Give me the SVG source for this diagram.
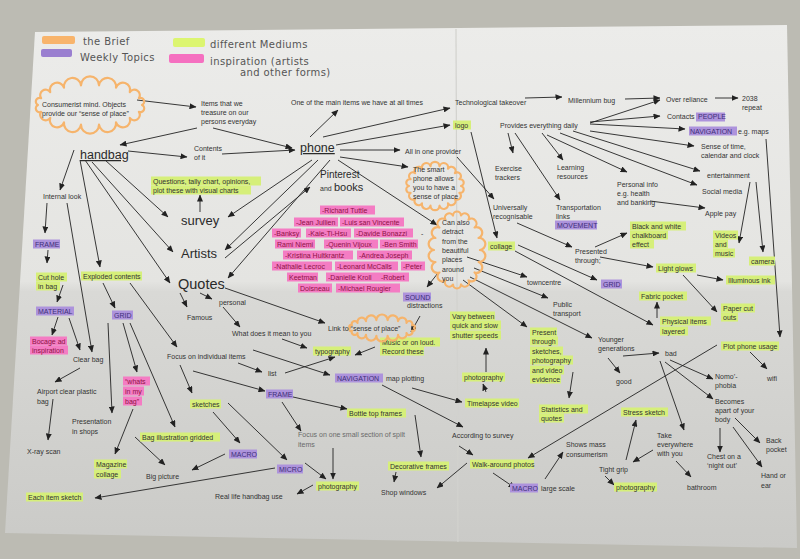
<svg xmlns="http://www.w3.org/2000/svg" width="800" height="559" viewBox="0 0 800 559">
<defs>
<style>
.t{font-family:"Liberation Sans",Arial,sans-serif;font-size:7px;fill:#333}
.g{fill:#6a6a6a}
.big{font-family:"Liberation Sans",Arial,sans-serif;fill:#2a2a2a}
.hw{font-family:"DejaVu Sans",sans-serif;font-size:10px;fill:#555;letter-spacing:0.4px}
.l{fill:#d6ef7a}
.p{fill:#ad93dc}
.k{fill:#f47cc3}
.pt{fill:#3d2f78}
.kt{fill:#8e1245}
.cloud{fill:none;stroke:#f6b46c;stroke-width:2.2;stroke-linejoin:round}
#connectors line{stroke:#222;stroke-width:0.9;marker-end:url(#ah)}
</style>
<marker id="ah" markerUnits="userSpaceOnUse" markerWidth="7" markerHeight="6" refX="6.5" refY="3" orient="auto">
<path d="M0,0 L7,3 L0,6 z" fill="#222"/>
</marker>
<linearGradient id="paper" x1="0" y1="0" x2="0" y2="1">
<stop offset="0" stop-color="#ececea"/>
<stop offset="0.49" stop-color="#e4e4e1"/>
<stop offset="0.51" stop-color="#d9d9d6"/>
<stop offset="1" stop-color="#cacac7"/>
</linearGradient>
</defs>

<g id="background">
<rect x="0" y="0" width="800" height="559" fill="#bcbbb3"/>
<polygon points="35,32 787,25 797,548 5,533" fill="url(#paper)"/>
<line x1="456" y1="29" x2="458" y2="542" stroke="#d2d2ce" stroke-width="1.2"/>
</g>

<g id="legend">
<rect x="42" y="36" width="33" height="8" rx="2" fill="#f8b46c"/>
<text class="hw" x="83" y="45">the Brief</text>
<rect x="41" y="49" width="31" height="8" rx="2" fill="#9a7fd0"/>
<text class="hw" x="80" y="61">Weekly Topics</text>
<rect x="173" y="38" width="32" height="9" rx="2" fill="#dcf570"/>
<text class="hw" x="210" y="48">different Mediums</text>
<rect x="169" y="54" width="35" height="9" rx="2" fill="#f570c0"/>
<text class="hw" x="210" y="65">inspiration (artists</text>
<text class="hw" x="240" y="76">and other forms)</text>
</g>

<g id="connectors">
<line x1="137" y1="100" x2="196" y2="107"/>
<line x1="197" y1="128" x2="120" y2="145"/>
<line x1="213" y1="128" x2="292" y2="148"/>
<line x1="128" y1="151" x2="187" y2="157"/>
<line x1="222" y1="154" x2="295" y2="150"/>
<line x1="310" y1="137" x2="338" y2="110"/>
<line x1="323" y1="137" x2="450" y2="108"/>
<line x1="336" y1="145" x2="450" y2="125"/>
<line x1="340" y1="150" x2="400" y2="150"/>
<line x1="340" y1="157" x2="408" y2="167"/>
<line x1="525" y1="98" x2="562" y2="97"/>
<line x1="625" y1="99" x2="660" y2="98"/>
<line x1="715" y1="98" x2="738" y2="98"/>
<line x1="590" y1="123" x2="660" y2="100"/>
<line x1="590" y1="122" x2="660" y2="116"/>
<line x1="590" y1="124" x2="685" y2="129"/>
<line x1="590" y1="131" x2="694" y2="146"/>
<line x1="573" y1="131" x2="700" y2="171"/>
<line x1="560" y1="133" x2="697" y2="185"/>
<line x1="547" y1="135" x2="627" y2="172"/>
<line x1="542" y1="133" x2="563" y2="160"/>
<line x1="508" y1="133" x2="513" y2="153"/>
<line x1="515" y1="133" x2="560" y2="200"/>
<line x1="650" y1="201" x2="705" y2="208"/>
<line x1="750" y1="182" x2="739" y2="243"/>
<line x1="756" y1="182" x2="763" y2="252"/>
<line x1="766" y1="139" x2="780" y2="337"/>
<line x1="471" y1="132" x2="497" y2="238"/>
<line x1="457" y1="157" x2="494" y2="199"/>
<line x1="517" y1="223" x2="572" y2="247"/>
<line x1="595" y1="247" x2="627" y2="233"/>
<line x1="600" y1="257" x2="653" y2="267"/>
<line x1="697" y1="275" x2="723" y2="280"/>
<line x1="683" y1="275" x2="717" y2="312"/>
<line x1="657" y1="318" x2="657" y2="302"/>
<line x1="518" y1="245" x2="597" y2="280"/>
<line x1="515" y1="251" x2="653" y2="325"/>
<line x1="623" y1="356" x2="659" y2="353"/>
<line x1="608" y1="358" x2="620" y2="373"/>
<line x1="670" y1="360" x2="713" y2="379"/>
<line x1="665" y1="362" x2="713" y2="399"/>
<line x1="660" y1="361" x2="684" y2="430"/>
<line x1="750" y1="352" x2="767" y2="369"/>
<line x1="717" y1="345" x2="528" y2="458"/>
<line x1="720" y1="428" x2="720" y2="452"/>
<line x1="735" y1="418" x2="760" y2="443"/>
<line x1="733" y1="427" x2="762" y2="467"/>
<line x1="653" y1="450" x2="633" y2="462"/>
<line x1="676" y1="461" x2="691" y2="477"/>
<line x1="626" y1="460" x2="636" y2="420"/>
<line x1="605" y1="476" x2="614" y2="485"/>
<line x1="545" y1="479" x2="563" y2="452"/>
<line x1="493" y1="473" x2="515" y2="488"/>
<line x1="467" y1="463" x2="437" y2="488"/>
<line x1="459" y1="446" x2="473" y2="455"/>
<line x1="382" y1="385" x2="463" y2="427"/>
<line x1="412" y1="388" x2="462" y2="402"/>
<line x1="486" y1="392" x2="483" y2="384"/>
<line x1="486" y1="372" x2="486" y2="348"/>
<line x1="463" y1="280" x2="527" y2="327"/>
<line x1="467" y1="257" x2="527" y2="277"/>
<line x1="474" y1="268" x2="548" y2="298"/>
<line x1="470" y1="277" x2="592" y2="338"/>
<line x1="573" y1="372" x2="569" y2="398"/>
<line x1="438" y1="273" x2="427" y2="287"/>
<line x1="420" y1="316" x2="411" y2="332"/>
<line x1="375" y1="347" x2="355" y2="355"/>
<line x1="282" y1="339" x2="307" y2="348"/>
<line x1="285" y1="373" x2="335" y2="357"/>
<line x1="253" y1="350" x2="330" y2="375"/>
<line x1="238" y1="363" x2="262" y2="372"/>
<line x1="193" y1="371" x2="265" y2="391"/>
<line x1="180" y1="365" x2="192" y2="393"/>
<line x1="293" y1="397" x2="347" y2="409"/>
<line x1="282" y1="402" x2="301" y2="431"/>
<line x1="333" y1="448" x2="333" y2="479"/>
<line x1="305" y1="463" x2="326" y2="479"/>
<line x1="313" y1="485" x2="297" y2="494"/>
<line x1="415" y1="415" x2="421" y2="457"/>
<line x1="396" y1="472" x2="394" y2="482"/>
<line x1="213" y1="412" x2="240" y2="443"/>
<line x1="228" y1="403" x2="287" y2="460"/>
<line x1="275" y1="468" x2="95" y2="498"/>
<line x1="225" y1="454" x2="192" y2="470"/>
<line x1="135" y1="437" x2="165" y2="465"/>
<line x1="133" y1="409" x2="115" y2="454"/>
<line x1="74" y1="150" x2="60" y2="190"/>
<line x1="80" y1="160" x2="100" y2="267"/>
<line x1="85" y1="160" x2="170" y2="283"/>
<line x1="92" y1="162" x2="173" y2="252"/>
<line x1="105" y1="160" x2="168" y2="217"/>
<line x1="67" y1="203" x2="92" y2="352"/>
<line x1="47" y1="203" x2="45" y2="233"/>
<line x1="48" y1="250" x2="47" y2="263"/>
<line x1="63" y1="285" x2="57" y2="302"/>
<line x1="58" y1="317" x2="52" y2="335"/>
<line x1="69" y1="318" x2="80" y2="350"/>
<line x1="103" y1="283" x2="115" y2="308"/>
<line x1="130" y1="283" x2="177" y2="347"/>
<line x1="108" y1="323" x2="112" y2="413"/>
<line x1="123" y1="323" x2="137" y2="372"/>
<line x1="130" y1="323" x2="175" y2="427"/>
<line x1="80" y1="368" x2="55" y2="382"/>
<line x1="53" y1="399" x2="48" y2="440"/>
<line x1="200" y1="212" x2="200" y2="195"/>
<line x1="312" y1="160" x2="228" y2="217"/>
<line x1="318" y1="160" x2="225" y2="250"/>
<line x1="330" y1="160" x2="228" y2="278"/>
<line x1="225" y1="258" x2="310" y2="187"/>
<line x1="338" y1="160" x2="437" y2="225"/>
<line x1="200" y1="293" x2="212" y2="299"/>
<line x1="180" y1="293" x2="187" y2="307"/>
<line x1="223" y1="307" x2="240" y2="327"/>
<line x1="225" y1="288" x2="325" y2="323"/>
</g>

<g id="n-consumerist">
<path class="cloud" d="M142,105 A1,1 0 0 1 138.9,111.8 A1,1 0 0 1 129.8,117.9 A1,1 0 0 1 116,122.3 A1,1 0 0 1 99,124.7 A1,1 0 0 1 81,124.7 A1,1 0 0 1 64,122.3 A1,1 0 0 1 50.2,117.9 A1,1 0 0 1 41.1,111.8 A1,1 0 0 1 38,105 A1,1 0 0 1 41.1,98.2 A1,1 0 0 1 50.2,92.1 A1,1 0 0 1 64,87.7 A1,1 0 0 1 81,85.3 A1,1 0 0 1 99,85.3 A1,1 0 0 1 116,87.7 A1,1 0 0 1 129.8,92.1 A1,1 0 0 1 138.9,98.2 A1,1 0 0 1 142,105 Z"/>
<text class="t" x="42" y="106.5">Consumerist mind. Objects</text>
<text class="t" x="42" y="115.5">provide our “sense of place”</text>
</g>
<g id="n-items"><text class="t" x="201" y="105.5">Items that we</text><text class="t" x="201" y="114.5">treasure on our</text><text class="t" x="201" y="123.5">persons everyday</text></g>
<g id="n-handbag"><text class="big" x="80" y="159" font-size="12.5" text-decoration="underline">handbag</text></g>
<g id="n-contents"><text class="t" x="194" y="150.5">Contents</text><text class="t" x="194" y="159.5">of it</text></g>
<g id="n-questions"><rect class="l" x="151" y="176.5" width="110" height="9"/><rect class="l" x="151" y="185.5" width="100" height="9"/><text class="t" x="153" y="183.5">Questions, tally chart, opinions,</text><text class="t" x="153" y="192.5">plot these with visual charts</text></g>
<g id="n-internal"><text class="t" x="43" y="198.5">Internal look</text></g>
<g id="n-mainitems"><text class="t" x="291" y="104.5">One of the main items we have at all times</text></g>
<g id="n-takeover"><text class="t" x="455" y="104.5">Technological takeover</text></g>
<g id="n-logo"><rect class="l" x="453" y="120.5" width="18" height="9"/><text class="t" x="455" y="127.5">logo</text></g>
<g id="n-provides"><text class="t" x="500" y="127.5">Provides everything daily</text></g>
<g id="n-phone"><text class="big" x="300" y="152" font-size="12.5" text-decoration="underline">phone</text></g>
<g id="n-allinone"><text class="t" x="405" y="153.5">All in one provider</text></g>
<g id="n-pinterest"><text class="big" x="320" y="178" font-size="10">Pinterest</text><text class="t" x="320" y="191">and</text><text class="big" x="334" y="191" font-size="11">books</text></g>
<g id="n-smartphone">
<path class="cloud" d="M461,186 A1,1 0 0 1 459.4,192.8 A1,1 0 0 1 454.9,198.9 A1,1 0 0 1 448,203.3 A1,1 0 0 1 439.5,205.7 A1,1 0 0 1 430.5,205.7 A1,1 0 0 1 422,203.3 A1,1 0 0 1 415.1,198.9 A1,1 0 0 1 410.6,192.8 A1,1 0 0 1 409,186 A1,1 0 0 1 410.6,179.2 A1,1 0 0 1 415.1,173.1 A1,1 0 0 1 422,168.7 A1,1 0 0 1 430.5,166.3 A1,1 0 0 1 439.5,166.3 A1,1 0 0 1 448,168.7 A1,1 0 0 1 454.9,173.1 A1,1 0 0 1 459.4,179.2 A1,1 0 0 1 461,186 Z"/>
<text class="t" x="413" y="171.5">The smart</text><text class="t" x="413" y="180.5">phone allows</text><text class="t" x="413" y="189.5">you to have a</text><text class="t" x="413" y="198.5">sense of place</text>
</g>
<g id="n-exercise"><text class="t" x="495" y="170.5">Exercise</text><text class="t" x="495" y="179.5">trackers</text></g>
<g id="n-millennium"><text class="t" x="568" y="102.5">Millennium bug</text></g>
<g id="n-overreliance"><text class="t" x="666" y="101.5">Over reliance</text></g>
<g id="n-2038"><text class="t" x="742" y="100.5">2038</text><text class="t" x="742" y="109.5">repeat</text></g>
<g id="n-contacts"><rect class="p" x="696" y="112.5" width="29" height="9"/><text class="t" x="667" y="119">Contacts</text><text class="t pt" x="698" y="119">PEOPLE</text></g>
<g id="n-navmaps"><rect class="p" x="689" y="126.5" width="48" height="9"/><text class="t pt" x="690" y="133.5">NAVIGATION</text><text class="t" x="738" y="133.5">e.g. maps</text></g>
<g id="n-sensetime"><text class="t" x="701" y="148.5">Sense of time,</text><text class="t" x="701" y="157.5">calendar and clock</text></g>
<g id="n-entertainment"><text class="t" x="707" y="177.5">entertainment</text></g>
<g id="n-learning"><text class="t" x="557" y="169.5">Learning</text><text class="t" x="557" y="178.5">resources</text></g>
<g id="n-personal-info"><text class="t" x="617" y="186.5">Personal info</text><text class="t" x="617" y="195.5">e.g. health</text><text class="t" x="617" y="204.5">and banking</text></g>
<g id="n-social"><text class="t" x="702" y="193.5">Social media</text></g>
<g id="n-applepay"><text class="t" x="705" y="215.5">Apple pay</text></g>
<g id="n-transport"><rect class="p" x="555" y="220.5" width="42" height="9"/><text class="t" x="556" y="209.5">Transportation</text><text class="t" x="556" y="218.5">links</text><text class="t pt" x="557" y="227.5">MOVEMENT</text></g>
<g id="n-universal"><text class="t" x="493" y="209.5">Universally</text><text class="t" x="493" y="218.5">recognisable</text></g>
<g id="n-chalk"><rect class="l" x="630" y="221.5" width="56" height="9"/><rect class="l" x="630" y="230.5" width="38" height="9"/><rect class="l" x="630" y="239.5" width="24" height="9"/><text class="t" x="632" y="228.5">Black and white</text><text class="t" x="632" y="237.5">chalkboard</text><text class="t" x="632" y="246.5">effect</text></g>
<g id="n-videos"><rect class="l" x="713" y="230.5" width="25" height="9"/><rect class="l" x="713" y="239.5" width="15" height="9"/><rect class="l" x="713" y="248.5" width="22" height="9"/><text class="t" x="715" y="237.5">Videos</text><text class="t" x="715" y="246.5">and</text><text class="t" x="715" y="255.5">music</text></g>
<g id="n-camera"><rect class="l" x="749" y="256.5" width="26" height="9"/><text class="t" x="751" y="263.5">camera</text></g>
<g id="n-presented"><text class="t" x="575" y="253.5">Presented</text><text class="t" x="575" y="262.5">through;</text></g>
<g id="n-light"><rect class="l" x="656" y="263.5" width="40" height="9"/><text class="t" x="658" y="270.5">Light glows</text></g>
<g id="n-illuminous"><rect class="l" x="726" y="275.5" width="49" height="9"/><text class="t" x="728" y="282.5">Illuminous ink</text></g>
<g id="n-grid2"><rect class="p" x="601" y="279.5" width="21" height="9"/><text class="t pt" x="603" y="286.5">GRID</text></g>
<g id="n-fabric"><rect class="l" x="639" y="291.5" width="48" height="9"/><text class="t" x="641" y="298.5">Fabric pocket</text></g>
<g id="n-papercut"><rect class="l" x="721" y="303.5" width="34" height="9"/><rect class="l" x="721" y="312.5" width="17" height="9"/><text class="t" x="723" y="310.5">Paper cut</text><text class="t" x="723" y="319.5">outs</text></g>
<g id="n-physical"><rect class="l" x="660" y="316.5" width="51" height="9"/><rect class="l" x="660" y="326.5" width="28" height="9"/><text class="t" x="662" y="323.5">Physical items</text><text class="t" x="662" y="333.5">layered</text></g>
<g id="n-plot"><rect class="l" x="721" y="341.5" width="58" height="9"/><text class="t" x="723" y="348.5">Plot phone usage</text></g>
<g id="n-younger"><text class="t" x="598" y="341.5">Younger</text><text class="t" x="598" y="350.5">generations</text></g>
<g id="n-bad"><text class="t" x="665" y="355.5">bad</text></g>
<g id="n-good"><text class="t" x="616" y="383.5">good</text></g>
<g id="n-wifi"><text class="t" x="767" y="380.5">wifi</text></g>
<g id="n-nomo"><text class="t" x="715" y="378.5">Nomo’-</text><text class="t" x="715" y="387.5">phobia</text></g>
<g id="n-becomes"><text class="t" x="715" y="403.5">Becomes</text><text class="t" x="715" y="412.5">apart of your</text><text class="t" x="715" y="421.5">body</text></g>
<g id="n-stress"><rect class="l" x="621" y="407.5" width="47" height="9"/><text class="t" x="623" y="414.5">Stress sketch</text></g>
<g id="n-take"><text class="t" x="657" y="437.5">Take</text><text class="t" x="657" y="446.5">everywhere</text><text class="t" x="657" y="455.5">with you</text></g>
<g id="n-back"><text class="t" x="766" y="442.5">Back</text><text class="t" x="766" y="451.5">pocket</text></g>
<g id="n-chest"><text class="t" x="707" y="458.5">Chest on a</text><text class="t" x="707" y="467.5">‘night out’</text></g>
<g id="n-hand"><text class="t" x="761" y="477.5">Hand or</text><text class="t" x="761" y="487.5">ear</text></g>
<g id="n-shows"><text class="t" x="566" y="446.5">Shows mass</text><text class="t" x="566" y="456.5">consumerism</text></g>
<g id="n-tight"><text class="t" x="599" y="471.5">Tight grip</text></g>
<g id="n-photo-lr"><rect class="l" x="614" y="482.5" width="43" height="9"/><text class="t" x="616" y="489.5">photography</text></g>
<g id="n-bathroom"><text class="t" x="687" y="489.5">bathroom</text></g>
<g id="n-macro-large"><rect class="p" x="510" y="483.5" width="28" height="9"/><text class="t pt" x="512" y="490.5">MACRO</text><text class="t" x="541" y="490.5">large scale</text></g>
<g id="n-statistics"><rect class="l" x="539" y="404.5" width="49" height="9"/><rect class="l" x="539" y="413.5" width="25" height="9"/><text class="t" x="541" y="411.5">Statistics and</text><text class="t" x="541" y="420.5">quotes</text></g>
<g id="n-present">
<rect class="l" x="530" y="327.5" width="27" height="9"/><rect class="l" x="530" y="336.5" width="28" height="9"/><rect class="l" x="530" y="346.5" width="33" height="9"/><rect class="l" x="530" y="355.5" width="43" height="9"/><rect class="l" x="530" y="365.5" width="34" height="9"/><rect class="l" x="530" y="374.5" width="31" height="9"/>
<text class="t" x="532" y="334.5">Present</text><text class="t" x="532" y="343.5">through</text><text class="t" x="532" y="353.5">sketches,</text><text class="t" x="532" y="362.5">photography</text><text class="t" x="532" y="372.5">and video</text><text class="t" x="532" y="381.5">evidence</text>
</g>
<g id="n-walk"><rect class="l" x="470" y="459.5" width="64" height="9"/><text class="t" x="472" y="466.5">Walk-around photos</text></g>
<g id="n-according"><text class="t" x="452" y="437.5">According to survey</text></g>
<g id="n-vary"><rect class="l" x="450" y="311.5" width="45" height="9"/><rect class="l" x="450" y="320.5" width="51" height="9"/><rect class="l" x="450" y="330.5" width="51" height="9"/><text class="t" x="452" y="318.5">Vary between</text><text class="t" x="452" y="327.5">quick and slow</text><text class="t" x="452" y="337.5">shutter speeds</text></g>
<g id="n-photo-mid"><rect class="l" x="462" y="372.5" width="43" height="9"/><text class="t" x="464" y="379.5">photography</text></g>
<g id="n-timelapse"><rect class="l" x="465" y="398.5" width="54" height="9"/><text class="t" x="467" y="405.5">Timelapse video</text></g>
<g id="n-navmap"><rect class="p" x="335" y="373.5" width="48" height="9"/><text class="t pt" x="337" y="380.5">NAVIGATION</text><text class="t" x="386" y="380.5">map plotting</text></g>
<g id="n-music"><rect class="l" x="380" y="337.5" width="60" height="9"/><rect class="l" x="380" y="346.5" width="44" height="9"/><text class="t" x="382" y="344.5">Music or on loud.</text><text class="t" x="382" y="353.5">Record these</text></g>
<g id="n-sound"><rect class="p" x="403" y="292.5" width="28" height="9"/><text class="t pt" x="405" y="299.5">SOUND</text><text class="t" x="407" y="308">distractions</text></g>
<g id="n-link">
<path class="cloud" d="M414,328 A1,1 0 0 1 412.1,330.7 A1,1 0 0 1 406.5,333.1 A1,1 0 0 1 398,334.9 A1,1 0 0 1 387.6,335.9 A1,1 0 0 1 376.4,335.9 A1,1 0 0 1 366,334.9 A1,1 0 0 1 357.5,333.1 A1,1 0 0 1 351.9,330.7 A1,1 0 0 1 350,328 A1,1 0 0 1 351.9,325.3 A1,1 0 0 1 357.5,322.9 A1,1 0 0 1 366,321.1 A1,1 0 0 1 376.4,320.1 A1,1 0 0 1 387.6,320.1 A1,1 0 0 1 398,321.1 A1,1 0 0 1 406.5,322.9 A1,1 0 0 1 412.1,325.3 A1,1 0 0 1 414,328 Z"/>
<text class="t" x="328" y="330.5">Link to “sense of place”</text>
</g>
<g id="n-typography"><rect class="l" x="313" y="346.5" width="38" height="9"/><text class="t" x="315" y="353.5">typography</text></g>
<g id="n-towncentre"><text class="t" x="527" y="284.5">towncentre</text></g>
<g id="n-public"><text class="t" x="553" y="306.5">Public</text><text class="t" x="553" y="315.5">transport</text></g>
<g id="n-collage"><rect class="l" x="488" y="241.5" width="27" height="9"/><text class="t" x="490" y="248.5">collage</text></g>
<g id="n-detract">
<path class="cloud" d="M480,250 A1,1 0 0 1 478.6,262 A1,1 0 0 1 474.6,272.5 A1,1 0 0 1 468.5,280.3 A1,1 0 0 1 461,284.5 A1,1 0 0 1 453,284.5 A1,1 0 0 1 445.5,280.3 A1,1 0 0 1 439.4,272.5 A1,1 0 0 1 435.4,262 A1,1 0 0 1 434,250 A1,1 0 0 1 435.4,238 A1,1 0 0 1 439.4,227.5 A1,1 0 0 1 445.5,219.7 A1,1 0 0 1 453,215.5 A1,1 0 0 1 461,215.5 A1,1 0 0 1 468.5,219.7 A1,1 0 0 1 474.6,227.5 A1,1 0 0 1 478.6,238 A1,1 0 0 1 480,250 Z"/>
<text class="t" x="442" y="224.5">Can also</text><text class="t" x="442" y="233.5">detract</text><text class="t" x="442" y="243.5">from the</text><text class="t" x="442" y="252.5">beautiful</text><text class="t" x="442" y="261.5">places</text><text class="t" x="442" y="271.5">around</text><text class="t" x="442" y="280.5">you</text>
</g>
<g id="n-survey"><text class="big" x="181" y="225" font-size="13">survey</text></g>
<g id="n-artists"><text class="big" x="181" y="258" font-size="13">Artists</text></g>
<g id="n-quotes"><text class="big" x="178" y="289" font-size="14.5">Quotes</text></g>
<g id="n-personal"><text class="t" x="219" y="304.5">personal</text></g>
<g id="n-famous"><text class="t" x="187" y="319.5">Famous</text></g>
<g id="n-whatmean"><text class="t" x="232" y="335.5">What does it mean to you</text></g>
<g id="n-artist-names">
<rect class="k" x="320" y="205.5" width="55" height="9"/>
<rect class="k" x="294" y="217.5" width="44" height="9"/><rect class="k" x="340" y="217.5" width="64" height="9"/>
<rect class="k" x="272" y="228.5" width="29" height="9"/><rect class="k" x="306" y="228.5" width="45" height="9"/><rect class="k" x="354" y="228.5" width="59" height="9"/>
<rect class="k" x="275" y="239.5" width="40" height="9"/><rect class="k" x="324" y="239.5" width="54" height="9"/><rect class="k" x="380" y="239.5" width="38" height="9"/>
<rect class="k" x="283" y="250.5" width="70" height="9"/><rect class="k" x="357" y="250.5" width="55" height="9"/>
<rect class="k" x="272" y="261.5" width="60" height="9"/><rect class="k" x="335" y="261.5" width="63" height="9"/><rect class="k" x="401" y="261.5" width="24" height="9"/>
<rect class="k" x="287" y="272.5" width="31" height="9"/><rect class="k" x="326" y="272.5" width="53" height="9"/><rect class="k" x="379" y="272.5" width="30" height="9"/>
<rect class="k" x="298" y="283.5" width="34" height="9"/><rect class="k" x="336" y="283.5" width="64" height="9"/>
<text class="t kt" x="322" y="212.5">-Richard Tuttle</text>
<text class="t kt" x="296" y="224.5">-Jean Jullien</text><text class="t kt" x="342" y="224.5">-Luis san Vincente</text>
<text class="t kt" x="274" y="235.5">-Banksy</text><text class="t kt" x="308" y="235.5">-Kaie-Ti-Hsu</text><text class="t kt" x="356" y="235.5">-Davide Bonazzi</text><text class="t" x="421" y="235.5">-</text>
<text class="t kt" x="277" y="246.5">Rami Niemi</text><text class="t kt" x="326" y="246.5">-Quenin Vijoux</text><text class="t kt" x="382" y="246.5">-Ben Smith</text>
<text class="t kt" x="285" y="257.5">-Kristina Hultkrantz</text><text class="t kt" x="359" y="257.5">-Andrea Joseph</text>
<text class="t kt" x="274" y="268.5">-Nathalie Lecroc</text><text class="t kt" x="337" y="268.5">-Leonard McCalls</text><text class="t kt" x="403" y="268.5">-Peter</text>
<text class="t kt" x="289" y="279.5">Keetman</text><text class="t kt" x="328" y="279.5">-Danielle Kroll</text><text class="t kt" x="381" y="279.5">-Robert</text>
<text class="t kt" x="300" y="290.5">Doisneau</text><text class="t kt" x="338" y="290.5">-Michael Rougier</text>
</g>
<g id="n-frame1"><rect class="p" x="33" y="239.5" width="27" height="9"/><text class="t pt" x="35" y="246.5">FRAME</text></g>
<g id="n-cuthole"><rect class="l" x="36" y="272.5" width="31" height="9"/><rect class="l" x="36" y="281.5" width="24" height="9"/><text class="t" x="38" y="279.5">Cut hole</text><text class="t" x="38" y="288.5">in bag</text></g>
<g id="n-material"><rect class="p" x="36" y="306.5" width="38" height="9"/><text class="t pt" x="38" y="313.5">MATERIAL</text></g>
<g id="n-bocage"><rect class="k" x="30" y="336.5" width="37" height="9"/><rect class="k" x="30" y="345.5" width="38" height="9"/><text class="t kt" x="32" y="343.5">Bocage ad</text><text class="t kt" x="32" y="352.5">inspiration</text></g>
<g id="n-exploded"><rect class="l" x="81" y="271.5" width="61" height="9"/><text class="t" x="83" y="278.5">Exploded contents</text></g>
<g id="n-grid1"><rect class="p" x="112" y="310.5" width="21" height="9"/><text class="t pt" x="114" y="317.5">GRID</text></g>
<g id="n-clearbag"><text class="t" x="73" y="361.5">Clear bag</text></g>
<g id="n-focusitems"><text class="t" x="167" y="358.5">Focus on individual items</text></g>
<g id="n-airport"><text class="t" x="37" y="393.5">Airport clear plastic</text><text class="t" x="37" y="403.5">bag</text></g>
<g id="n-xray"><text class="t" x="27" y="453.5">X-ray scan</text></g>
<g id="n-presentation"><text class="t" x="72" y="423.5">Presentation</text><text class="t" x="72" y="433.5">in shops</text></g>
<g id="n-whats"><rect class="k" x="123" y="376.5" width="27" height="9"/><rect class="k" x="123" y="386.5" width="21" height="9"/><rect class="k" x="123" y="396.5" width="19" height="9"/><text class="t kt" x="125" y="383.5">“whats</text><text class="t kt" x="125" y="393.5">in my</text><text class="t kt" x="125" y="403.5">bag”</text></g>
<g id="n-sketches"><rect class="l" x="190" y="399.5" width="31" height="9"/><text class="t" x="192" y="406.5">sketches</text></g>
<g id="n-list"><text class="t" x="268" y="375.5">list</text></g>
<g id="n-frame2"><rect class="p" x="266" y="389.5" width="27" height="9"/><text class="t pt" x="268" y="396.5">FRAME</text></g>
<g id="n-bagillus"><rect class="l" x="140" y="432.5" width="80" height="9"/><text class="t" x="142" y="439.5">Bag illustration gridded</text></g>
<g id="n-macro1"><rect class="p" x="229" y="449.5" width="28" height="9"/><text class="t pt" x="231" y="456.5">MACRO</text></g>
<g id="n-magazine"><rect class="l" x="94" y="459.5" width="33" height="9"/><rect class="l" x="94" y="469.5" width="27" height="9"/><text class="t" x="96" y="466.5">Magazine</text><text class="t" x="96" y="476.5">collage</text></g>
<g id="n-bigpicture"><text class="t" x="146" y="478.5">Big picture</text></g>
<g id="n-micro"><rect class="p" x="277" y="464.5" width="26" height="9"/><text class="t pt" x="279" y="471.5">MICRO</text></g>
<g id="n-eachitem"><rect class="l" x="26" y="492.5" width="57" height="9"/><text class="t" x="28" y="499.5">Each item sketch</text></g>
<g id="n-reallife"><text class="t" x="215" y="498.5">Real life handbag use</text></g>
<g id="n-focussmall"><text class="t g" x="298" y="436.5">Focus on one small section of spilt</text><text class="t g" x="298" y="446.5">items</text></g>
<g id="n-bottletop"><rect class="l" x="347" y="408.5" width="59" height="9"/><text class="t" x="349" y="415.5">Bottle top frames</text></g>
<g id="n-photo-bottom"><rect class="l" x="316" y="481.5" width="43" height="9"/><text class="t" x="318" y="488.5">photography</text></g>
<g id="n-decorative"><rect class="l" x="388" y="461.5" width="61" height="9"/><text class="t" x="390" y="468.5">Decorative frames</text></g>
<g id="n-shopwindows"><text class="t" x="381" y="494.5">Shop windows</text></g>
</svg>
